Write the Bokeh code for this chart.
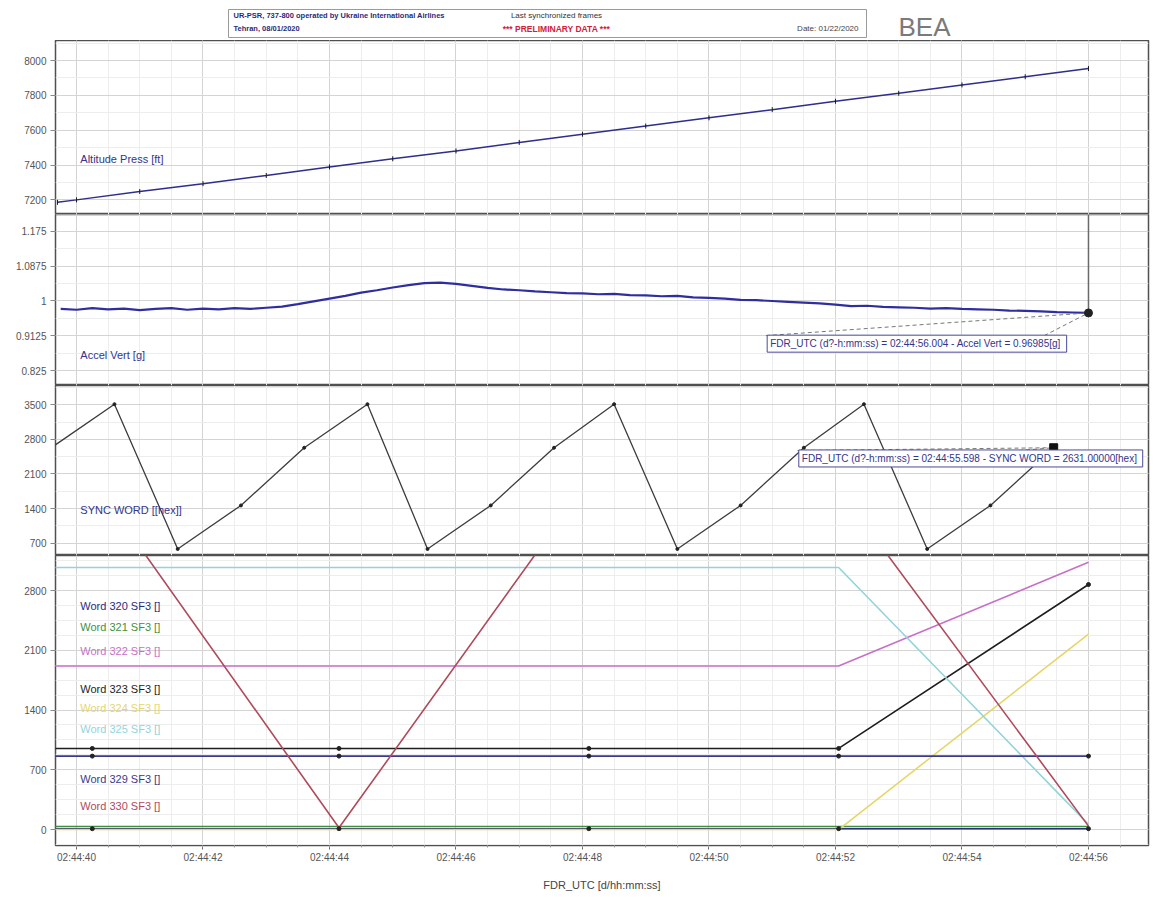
from bokeh.plotting import figure
from bokeh.layouts import column
from bokeh.models import Range1d, FixedTicker, Label
from bokeh.embed import file_html
from bokeh.resources import INLINE
from bokeh.core.properties import value

# ---------------- data (time = seconds after 02:44:00) ----------------
alt_t = [39.7, 40, 41, 42, 43, 44, 45, 46, 47, 48, 49, 50, 51, 52, 53, 54, 55, 56]
alt_v = [7186, 7200, 7248, 7293, 7340, 7389, 7436, 7481, 7530, 7577, 7624, 7671, 7718, 7766, 7812, 7860, 7907, 7954]

acc_t = [39.75, 40.0, 40.25, 40.5, 40.75, 41.0, 41.25, 41.5, 41.75, 42.0, 42.25, 42.5, 42.75, 43.0,
         43.25, 43.5, 43.75, 44.0, 44.25, 44.5, 44.75, 45.0, 45.25, 45.5, 45.75, 46.0, 46.25, 46.5,
         46.75, 47.0, 47.25, 47.5, 47.75, 48.0, 48.25, 48.5, 48.75, 49.0, 49.25, 49.5, 49.75, 50.0,
         50.25, 50.5, 50.75, 51.0, 51.25, 51.5, 51.75, 52.0, 52.25, 52.5, 52.75, 53.0, 53.25, 53.5,
         53.75, 54.0, 54.25, 54.5, 54.75, 55.0, 55.25, 55.5, 55.75, 56.0]
acc_v = [0.980, 0.978, 0.982, 0.979, 0.981, 0.977, 0.980, 0.982, 0.978, 0.981, 0.979, 0.982, 0.980, 0.983,
         0.986, 0.992, 0.999, 1.006, 1.013, 1.021, 1.027, 1.034, 1.040, 1.045, 1.046, 1.043, 1.038, 1.033,
         1.029, 1.027, 1.024, 1.022, 1.020, 1.019, 1.017, 1.018, 1.015, 1.014, 1.012, 1.013, 1.009, 1.008,
         1.006, 1.003, 1.002, 1.000, 0.998, 0.996, 0.994, 0.991, 0.987, 0.988, 0.985, 0.984, 0.983, 0.981,
         0.982, 0.980, 0.979, 0.978, 0.976, 0.975, 0.974, 0.972, 0.971, 0.970]

sync_t = [39.6, 40.6, 41.6, 42.6, 43.6, 44.6, 45.55, 46.55, 47.55, 48.5, 49.5, 50.5, 51.5, 52.45, 53.45, 54.45, 55.45]
sync_v = [2631, 3512, 583, 1464, 2631, 3512, 583, 1464, 2631, 3512, 583, 1464, 2631, 3512, 583, 1464, 2631]

word_t = [36.3, 40.25, 44.15, 48.1, 52.05, 56.0]
words = {
    "Word 320 SF3 []": [10, 10, 10, 10, 10, 10],
    "Word 321 SF3 []": [35, 35, 35, 35, 35, 35],
    "Word 322 SF3 []": [1915, 1915, 1915, 1915, 1915, 3130],
    "Word 323 SF3 []": [950, 950, 950, 950, 950, 2870],
    "Word 324 SF3 []": [0, 0, 0, 0, 0, 2290],
    "Word 325 SF3 []": [3070, 3070, 3070, 3070, 3070, 60],
    "Word 329 SF3 []": [860, 860, 860, 860, 860, 860],
    "Word 330 SF3 []": [4095, 4095, 20, 4095, 3990, 40],
}
word_colors = ["#2b2b80", "#3f8f3f", "#c870c8", "#1e1e1e", "#e6d66a", "#93d4da", "#3a3a8a", "#b04a5a"]
word_label_v = [2624, 2378, 2097, 1652, 1418, 1183, 597, 281]

x_ticks = [40, 42, 44, 46, 48, 50, 52, 54, 56]
x_tick_labels = ["02:44:40", "02:44:42", "02:44:44", "02:44:46", "02:44:48",
                 "02:44:50", "02:44:52", "02:44:54", "02:44:56"]
x_minor = [39.5 + 0.5 * i for i in range(36)]

alt_ticks = [7200, 7400, 7600, 7800, 8000]
acc_ticks = [0.825, 0.9125, 1, 1.0875, 1.175]
acc_tick_labels = ["0.825", "0.9125", "1", "1.0875", "1.175"]
sync_ticks = [700, 1400, 2100, 2800, 3500]
word_ticks = [0, 700, 1400, 2100, 2800]

# ---------------- layout ----------------
W = 1150
LEFT = 55
RIGHT = 2
FONT = "Liberation Sans"
NAVY = "#34348a"
xr = Range1d(39.668, 56.949)


def make_panel(height, ylo, yhi, yticks, ylabels, yminor, show_x=False):
    p = figure(width=W, height=height, x_range=xr, y_range=Range1d(ylo, yhi),
               output_backend="svg", toolbar_location=None, tools="",
               min_border_left=LEFT, min_border_right=RIGHT, min_border_top=0, min_border_bottom=0)
    p.background_fill_color = "white"
    p.outline_line_color = "#505050"
    p.outline_line_width = 1.5
    p.yaxis.ticker = FixedTicker(ticks=yticks, minor_ticks=yminor)
    p.yaxis.major_label_overrides = {t: l for t, l in zip(yticks, ylabels)}
    p.yaxis.major_label_text_font = FONT
    p.yaxis.major_label_text_font_size = "10px"
    p.yaxis.major_label_text_color = "#555555"
    p.yaxis.axis_line_color = None
    p.yaxis.major_tick_line_color = "#888888"
    p.yaxis.major_tick_out = 5
    p.yaxis.major_tick_in = 0
    p.yaxis.minor_tick_line_color = None
    p.yaxis.major_label_standoff = 4
    p.ygrid.ticker = FixedTicker(ticks=yticks, minor_ticks=yminor)
    p.xgrid.ticker = FixedTicker(ticks=x_ticks, minor_ticks=x_minor)
    for g in (p.xgrid, p.ygrid):
        g.grid_line_color = "#d4d4d4"
        g.minor_grid_line_color = "#ededed"
    if show_x:
        p.xaxis.ticker = FixedTicker(ticks=x_ticks, minor_ticks=x_minor)
        p.xaxis.major_label_overrides = {t: l for t, l in zip(x_ticks, x_tick_labels)}
        p.xaxis.major_label_text_font = FONT
        p.xaxis.major_label_text_font_size = "10px"
        p.xaxis.major_label_text_color = "#555555"
        p.xaxis.axis_line_color = None
        p.xaxis.major_tick_line_color = "#666666"
        p.xaxis.minor_tick_line_color = "#999999"
        p.xaxis.major_tick_out = 4
        p.xaxis.minor_tick_out = 2
        p.xaxis.major_tick_in = 0
        p.xaxis.minor_tick_in = 0
        p.xaxis.major_label_standoff = 2
        p.xaxis.axis_label = "FDR_UTC [d/hh:mm:ss]"
        p.xaxis.axis_label_text_font = FONT
        p.xaxis.axis_label_text_font_size = "11px"
        p.xaxis.axis_label_text_font_style = "normal"
        p.xaxis.axis_label_text_color = "#444444"
        p.xaxis.axis_label_standoff = 13
    else:
        p.xaxis.visible = False
    return p


def panel_label(p, x, y, text, color=NAVY):
    p.add_layout(Label(x=x, y=y, text=text, text_font=FONT, text_font_size="11px",
                       text_color=color, text_baseline="middle", text_align="left"))


# ---------------- header (coordinates = page pixels) ----------------
hdr = figure(width=W, height=40, x_range=Range1d(LEFT, W - RIGHT), y_range=Range1d(40, 0),
             output_backend="svg", toolbar_location=None, tools="",
             min_border_left=LEFT, min_border_right=RIGHT, min_border_top=0, min_border_bottom=0)
hdr.axis.visible = False
hdr.grid.visible = False
hdr.outline_line_color = None
hdr.quad(left=[228], right=[866], top=[9], bottom=[37], fill_color="white", line_color="#9a9a9a", line_width=1)
hdr.text(x=[233], y=[15], text=["UR-PSR, 737-800 operated by Ukraine International Airlines"],
         text_font=value(FONT), text_font_size="7.5px", text_font_style="bold",
         text_color="#2a2a7a", text_baseline="middle")
hdr.text(x=[233], y=[28], text=["Tehran, 08/01/2020"], text_font=value(FONT), text_font_size="7.5px",
         text_font_style="bold", text_color="#2a2a7a", text_baseline="middle")
hdr.text(x=[556], y=[15], text=["Last synchronized frames"], text_font=value(FONT), text_font_size="8px",
         text_color="#333333", text_baseline="middle", text_align="center")
hdr.text(x=[556], y=[28], text=["*** PRELIMINARY DATA ***"], text_font=value(FONT), text_font_size="8.5px",
         text_font_style="bold", text_color="#d0203a", text_baseline="middle", text_align="center")
hdr.text(x=[858], y=[28], text=["Date: 01/22/2020"], text_font=value(FONT), text_font_size="8px",
         text_color="#444444", text_baseline="middle", text_align="right")
hdr.add_layout(Label(x=898, y=26, text="BEA", text_font=FONT, text_font_size="26px",
                     text_color="#7a7a7a", text_baseline="middle", text_align="left"))

# ---------------- panel 1: altitude ----------------
p1 = make_panel(174, 7116, 8115, alt_ticks, [str(v) for v in alt_ticks],
                [7100 + 100 * i for i in range(11)])
p1.line(alt_t, alt_v, line_color="#2e2e8c", line_width=1.5)
p1.scatter(alt_t, alt_v, marker="dash", size=5, angle=1.5708, line_color="#1a1a1a")
panel_label(p1, 40.06, 7437, "Altitude Press [ft]")

# ---------------- panel 2: accel ----------------
p2 = make_panel(171, 0.7873, 1.2177, acc_ticks, acc_tick_labels,
                [0.78125 + 0.04375 * i for i in range(11)])
p2.line(acc_t, acc_v, line_color="#2e2ea0", line_width=2.2)
p2.segment(x0=[acc_t[-1]], y0=[acc_v[-1]], x1=[acc_t[-1]], y1=[1.2177], line_color="#6a6a6a", line_width=1.5)
p2.segment(x0=[50.9, 55.3], y0=[0.9128, 0.9128], x1=[acc_t[-1], acc_t[-1]], y1=[acc_v[-1], acc_v[-1]],
           line_color="#777777", line_width=1, line_dash="4 3")
p2.scatter([acc_t[-1]], [acc_v[-1]], size=8, fill_color="#222222", line_color="#222222")
panel_label(p2, 40.06, 0.865, "Accel Vert [g]")
p2.add_layout(Label(x=50.92, y=0.8926, text="FDR_UTC (d?-h:mm:ss) = 02:44:56.004  - Accel Vert = 0.96985[g]",
                    text_font=FONT, text_font_size="10px", text_color=NAVY, text_baseline="middle",
                    background_fill_color="white", border_line_color="#4a4a9a", border_line_width=1,
                    padding=3))

# ---------------- panel 3: sync word ----------------
p3 = make_panel(170, 451, 3890, sync_ticks, [str(v) for v in sync_ticks],
                [350 + 350 * i for i in range(12)])
p3.line(sync_t, sync_v, line_color="#3c3c3c", line_width=1.3)
p3.scatter(sync_t, sync_v, size=3, fill_color="#222222", line_color="#222222")
p3.segment(x0=[51.4, 54.9], y0=[2575, 2575], x1=[sync_t[-1], sync_t[-1]], y1=[sync_v[-1], sync_v[-1]],
           line_color="#777777", line_width=1, line_dash="4 3")
p3.scatter([sync_t[-1]], [sync_v[-1]], marker="square", size=8, fill_color="#111111", line_color="#111111")
panel_label(p3, 40.06, 1362, "SYNC WORD [[hex]]")
p3.add_layout(Label(x=51.42, y=2414, text="FDR_UTC (d?-h:mm:ss) = 02:44:55.598  - SYNC WORD = 2631.00000[hex]",
                    text_font=FONT, text_font_size="10px", text_color=NAVY, text_baseline="middle",
                    background_fill_color="white", border_line_color="#4a4a9a", border_line_width=1,
                    padding=3))

# ---------------- panel 4: words ----------------
p4 = make_panel(338, -187, 3210, word_ticks, [str(v) for v in word_ticks],
                [-175 + 175 * i for i in range(20)], show_x=True)
for (name, vals), col in zip(words.items(), word_colors):
    p4.line(word_t, vals, line_color=col, line_width=1.6)
for name in ("Word 323 SF3 []", "Word 329 SF3 []", "Word 320 SF3 []"):
    p4.scatter(word_t, words[name], size=4, fill_color="#222222", line_color="#222222")
for (name, vals), col, yv in zip(words.items(), word_colors, word_label_v):
    panel_label(p4, 40.06, yv, name, color=col)

layout = column(hdr, p1, p2, p3, p4, spacing=0)
open("out.html", "w").write(file_html(layout, INLINE))
